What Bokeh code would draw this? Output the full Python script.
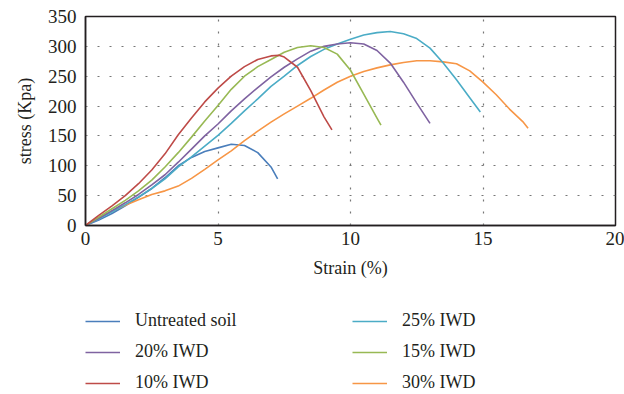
from bokeh.plotting import figure
from bokeh.layouts import column
from bokeh.models import Legend, LegendItem, FixedTicker, Range1d
from bokeh.embed import file_html
from bokeh.resources import INLINE

# ---- data ----
untreated_x = [0, 0.5, 1, 1.5, 2, 2.5, 3, 3.5, 4, 4.5, 5, 5.5, 6, 6.5, 7, 7.25]
untreated_y = [0, 9, 20, 33, 47, 62, 80, 100, 114, 124, 130, 136, 134, 122, 98, 78]

iwd10_x = [0, 0.5, 1, 1.5, 2, 2.5, 3, 3.5, 4, 4.5, 5, 5.5, 6, 6.5, 7, 7.3, 7.5, 8, 8.5, 9, 9.3]
iwd10_y = [0, 17, 33, 50, 70, 93, 120, 152, 180, 207, 230, 250, 266, 278, 284, 285, 282, 265, 226, 182, 160]

iwd15_x = [0, 0.5, 1, 1.5, 2, 2.5, 3, 3.5, 4, 4.5, 5, 5.5, 6, 6.5, 7, 7.5, 8, 8.5, 9, 9.5, 10, 10.5, 11, 11.15]
iwd15_y = [0, 14, 28, 42, 58, 76, 98, 122, 148, 175, 201, 228, 250, 266, 278, 290, 298, 301, 298, 287, 260, 220, 180, 168]

iwd20_x = [0, 0.5, 1, 1.5, 2, 2.5, 3, 3.5, 4, 4.5, 5, 5.5, 6, 6.5, 7, 7.5, 8, 8.5, 9, 9.5, 10, 10.5, 11, 11.5, 12, 12.5, 13]
iwd20_y = [0, 12, 25, 38, 52, 68, 85, 106, 128, 150, 170, 192, 212, 231, 249, 265, 279, 292, 300, 304, 306, 304, 293, 272, 240, 205, 171]

iwd25_x = [0, 0.5, 1, 1.5, 2, 2.5, 3, 3.5, 4, 4.5, 5, 5.5, 6, 6.5, 7, 7.5, 8, 8.5, 9, 9.5, 10, 10.5, 11, 11.5, 12, 12.5, 13, 13.5, 14, 14.5, 14.9]
iwd25_y = [0, 11, 23, 35, 48, 62, 78, 98, 115, 133, 151, 171, 192, 212, 233, 250, 268, 283, 295, 304, 312, 319, 323, 325, 321, 313, 297, 272, 244, 214, 190]

iwd30_x = [0, 0.5, 1, 1.5, 2, 2.5, 3, 3.5, 4, 4.5, 5, 5.5, 6, 6.5, 7, 7.5, 8, 8.5, 9, 9.5, 10, 10.5, 11, 11.5, 12, 12.5, 13, 13.5, 14, 14.5, 15, 15.5, 16, 16.5, 16.7]
iwd30_y = [0, 13, 24, 34, 43, 52, 58, 66, 79, 94, 110, 125, 142, 158, 173, 187, 200, 213, 227, 240, 250, 258, 264, 269, 273, 276, 276, 274, 271, 259, 240, 219, 195, 174, 163]

x_ticks = [0, 5, 10, 15, 20]
y_ticks = [0, 50, 100, 150, 200, 250, 300, 350]

FONT = "Liberation Serif"
TXT = "#231f20"

p = figure(width=624, height=300, output_backend="svg", toolbar_location=None,
           x_range=Range1d(0, 20), y_range=Range1d(0, 350),
           min_border_left=85, min_border_right=9, min_border_top=16, min_border_bottom=75)
p.outline_line_color = "#231f20"
p.outline_line_width = 1.5
p.background_fill_color = "white"
p.border_fill_color = "white"

for ax in (p.xaxis[0], p.yaxis[0]):
    ax.major_label_text_font = FONT
    ax.major_label_text_font_size = "19px"
    ax.major_label_text_color = TXT
    ax.axis_label_text_font = FONT
    ax.axis_label_text_font_size = "18px"
    ax.axis_label_text_font_style = "normal"
    ax.axis_label_text_color = TXT
    ax.major_tick_out = 0
    ax.major_tick_in = 0
    ax.minor_tick_out = 0
    ax.minor_tick_in = 0
    ax.axis_line_color = "#231f20"
    ax.axis_line_width = 1.5

p.xaxis.ticker = FixedTicker(ticks=x_ticks)
p.yaxis.ticker = FixedTicker(ticks=y_ticks)
p.xaxis.axis_label = "Strain (%)"
p.yaxis.axis_label = "stress (Kpa)"
p.xaxis.major_label_standoff = 6
p.yaxis.major_label_standoff = 9
p.xaxis.axis_label_standoff = 10
p.yaxis.axis_label_standoff = 10

p.grid.grid_line_color = "#777777"
p.grid.grid_line_dash = "2 10"
p.grid.grid_line_width = 1.2

series = [
    ("Untreated soil", untreated_x, untreated_y, "#4a7ebb"),
    ("20% IWD", iwd20_x, iwd20_y, "#7f63a1"),
    ("10% IWD", iwd10_x, iwd10_y, "#be4b48"),
    ("25% IWD", iwd25_x, iwd25_y, "#4bacc6"),
    ("15% IWD", iwd15_x, iwd15_y, "#98b954"),
    ("30% IWD", iwd30_x, iwd30_y, "#f79646"),
]
draw_order = ["Untreated soil", "30% IWD", "25% IWD", "20% IWD", "15% IWD", "10% IWD"]
lookup = {s[0]: s for s in series}
for name in draw_order:
    _, xs, ys, c = lookup[name]
    p.line(xs, ys, line_color=c, line_width=1.6)

# legend strip below the chart (its data lies outside this strip's ranges, so only the key shows)
p2 = figure(width=624, height=94, output_backend="svg", toolbar_location=None,
            x_range=Range1d(0, 20), y_range=Range1d(-2000, -1000),
            x_axis_location=None, y_axis_location=None,
            min_border_left=0, min_border_right=0, min_border_top=0, min_border_bottom=0)
p2.outline_line_color = None
p2.grid.visible = False
p2.background_fill_color = "white"
items = []
for name, xs, ys, c in series:
    r = p2.line(xs, ys, line_color=c, line_width=1.6)
    items.append(LegendItem(label=name, renderers=[r]))

legend = Legend(items=items, ncols=2, orientation="vertical", location=(0, 1),
                label_text_font=FONT, label_text_font_size="18px", label_text_color=TXT,
                glyph_width=35, glyph_height=20, label_height=20, label_standoff=15,
                label_width=207, spacing=10, padding=0, margin=0,
                border_line_color=None, background_fill_alpha=0)
p2.add_layout(legend, "center")

layout = column(p, p2, spacing=0)
open("out.html", "w").write(file_html(layout, INLINE))
